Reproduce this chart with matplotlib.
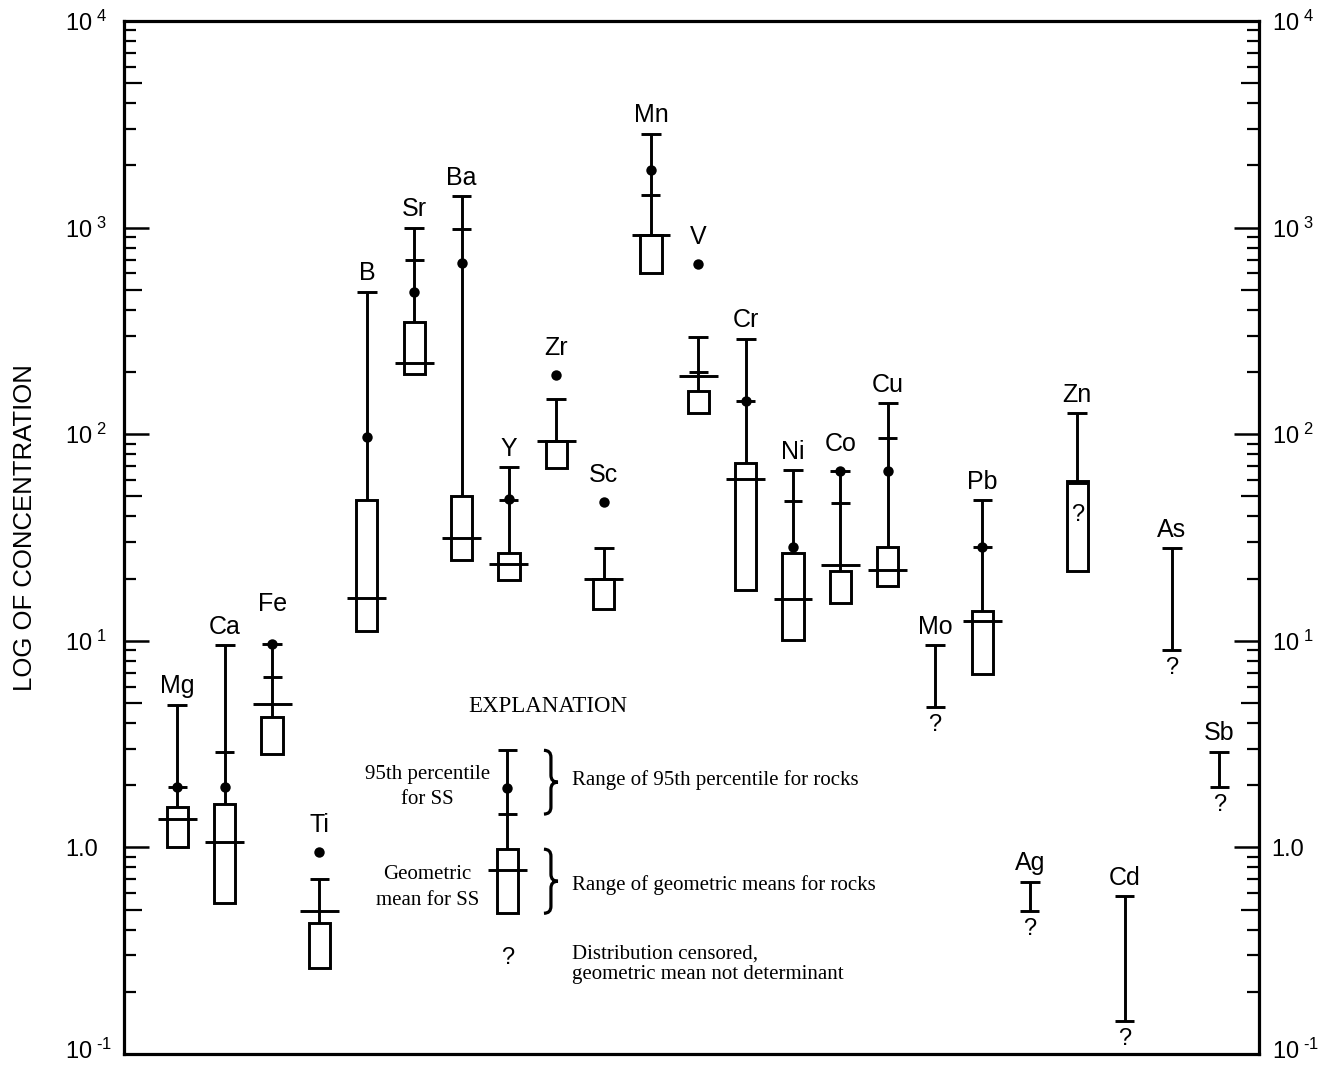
import numpy as np
import matplotlib
matplotlib.use("Agg")
import matplotlib.pyplot as plt
from matplotlib.path import Path
from matplotlib.patches import PathPatch, Rectangle
from matplotlib.ticker import FixedLocator, FixedFormatter, NullFormatter
from matplotlib.transforms import ScaledTranslation

plt.rcParams['font.family'] = ['Liberation Sans', 'DejaVu Sans']
plt.rcParams['mathtext.fontset'] = 'custom'
plt.rcParams['mathtext.rm'] = 'Liberation Sans'
plt.rcParams['mathtext.it'] = 'Liberation Sans:italic'
plt.rcParams['mathtext.bf'] = 'Liberation Sans:bold'

nan = np.nan

# ---------------- data ----------------
elements = ['Mg', 'Ca', 'Fe', 'Ti', 'B', 'Sr', 'Ba', 'Y', 'Zr', 'Sc', 'Mn', 'V',
            'Cr', 'Ni', 'Co', 'Cu', 'Mo', 'Pb', 'Ag', 'Zn', 'Cd', 'As', 'Sb']
# top of range of 95th percentile for rocks
rock95_max = [4.9, 9.5, 9.6, 0.70, 490, 1000, 1420, 69, 148, 28, 2850, 295,
              290, 67, 66, 141, 9.5, 48, 0.68, 126, 0.58, 28, 2.9]
# bottom of range of 95th percentile for rocks
rock95_min = [1.95, 2.9, 6.7, nan, nan, 700, 980, 48, nan, nan, 1440, 199,
              144, 47.6, 46.6, 96, 4.8, 28.3, 0.49, 58, 0.145, 9.0, 1.95]
# 95th percentile for stream sediments
ss95 = [1.95, 1.95, 9.6, 0.95, 97, 488, 673, 48.4, 194, 47, 1900, 667,
        144, 28.5, 66, 66, nan, 28.3, nan, nan, nan, nan, nan]
# range of geometric means for rocks
rockgm_min = [1.01, 0.54, 2.82, 0.26, 11.1, 196, 24.5, 19.6, 68.9, 14.3, 604, 127,
              17.6, 10.1, 15.3, 18.5, nan, 6.9, nan, 21.8, nan, nan, nan]
rockgm_max = [1.57, 1.63, 4.29, 0.43, 48.2, 349, 50.1, 26.5, 93.1, 20.0, 923, 162,
              72.4, 26.5, 21.7, 28.5, nan, 14.0, nan, 59.4, nan, nan, nan]
# geometric mean for stream sediments
ss_gm = [1.38, 1.06, 4.95, 0.49, 16.1, 222, 31.5, 23.5, 93.1, 20.0, 923, 190.5,
         60.9, 15.9, 23.4, 21.9, nan, 12.5, nan, nan, nan, nan, nan]
censored = ['Mo', 'Zn', 'Ag', 'Cd', 'As', 'Sb']

# explanation example values
ex_cap, ex_tick, ex_dot = 2.95, 1.45, 1.93
ex_box = (0.48, 0.98)
ex_gm = 0.78
ex_q = 0.29

ytick_vals = [0.1, 1, 10, 100, 1000, 10000]
ytick_labels = ['$\\mathregular{10^{\\ \u20101}}$', '1.0', r'$\mathregular{10^{\ 1}}$',
                r'$\mathregular{10^{\ 2}}$', r'$\mathregular{10^{\ 3}}$',
                r'$\mathregular{10^{\ 4}}$']

# ---------------- style ----------------
LW = 2.1
CAP_W = 0.42
TICK_W = 0.40
BOX_W = 0.45
GM_W = 0.82
DOT_MS = 7.5
LABEL_FS = 18
Q_FS = 17
SERIF = ['Liberation Serif', 'DejaVu Serif']

fig = plt.figure(figsize=(13.32, 10.67), dpi=100)
ax = fig.add_axes([124/1332, 1 - 1054/1067, (1259 - 124)/1332, (1054 - 21)/1067])
ax.set_yscale('log')
ax.set_ylim(0.1, 1e4)
ax.set_xlim(-1.128, 22.84)
ax.set_xticks([])

for s in ax.spines.values():
    s.set_linewidth(2.3)

ax.yaxis.set_major_locator(FixedLocator(ytick_vals))
ax.yaxis.set_major_formatter(FixedFormatter(ytick_labels))
minor_vals = [m * 10.0**e for e in range(-1, 4) for m in range(2, 10)]
ax.yaxis.set_minor_locator(FixedLocator(minor_vals))
ax.yaxis.set_minor_formatter(NullFormatter())
ax.tick_params(axis='y', which='major', direction='in', length=18, width=1.8,
               left=True, right=True, labelleft=True, labelright=True,
               labelsize=17, pad=9)
ax.tick_params(axis='y', which='minor', direction='in', length=8.5, width=1.6,
               left=True, right=True)

ax.set_ylabel('LOG OF CONCENTRATION', fontsize=18.5, va='center')
ax.yaxis.set_label_coords(-0.087, 0.51)


def fin(v):
    return v is not None and not np.isnan(v)


for i, el in enumerate(elements):
    x = i
    top = rock95_max[i]
    has_box = fin(rockgm_min[i])
    low_end = rockgm_max[i] if has_box else rock95_min[i]
    ax.vlines(x, low_end, top, color='black', lw=LW)
    ax.hlines(top, x - CAP_W/2, x + CAP_W/2, color='black', lw=LW)
    if fin(rock95_min[i]):
        ax.hlines(rock95_min[i], x - TICK_W/2, x + TICK_W/2, color='black', lw=LW)
    if fin(ss95[i]):
        ax.plot([x], [ss95[i]], 'o', color='black', ms=DOT_MS, mew=0)
    if has_box:
        ax.add_patch(Rectangle((x - BOX_W/2, rockgm_min[i]), BOX_W,
                               rockgm_max[i] - rockgm_min[i], fill=False,
                               lw=LW, edgecolor='black'))
    if fin(ss_gm[i]):
        ax.hlines(ss_gm[i], x - GM_W/2, x + GM_W/2, color='black', lw=LW)
    # element label
    top_val = top
    gap = 8.3
    if fin(ss95[i]) and ss95[i] >= top * 0.97:
        top_val = max(top, ss95[i])
        gap = 14.5
    if el == 'Fe':
        gap = 24
    ax.annotate(el, (x, top_val), xytext=(0, gap), textcoords='offset points',
                ha='center', va='baseline', fontsize=LABEL_FS)
    if el in censored:
        if has_box:
            ym = np.sqrt(rockgm_min[i] * rockgm_max[i])
            ax.annotate('?', (x, ym), xytext=(0, 8), textcoords='offset points',
                        ha='center', va='center', fontsize=Q_FS)
        else:
            ax.annotate('?', (x, rock95_min[i]), xytext=(0, -5),
                        textcoords='offset points', ha='center', va='top',
                        fontsize=Q_FS)

# ---------------- explanation ----------------
ex_x = 6.97
ax.vlines(ex_x, ex_box[1], ex_cap, color='black', lw=LW)
ax.hlines(ex_cap, ex_x - CAP_W/2, ex_x + CAP_W/2, color='black', lw=LW)
ax.hlines(ex_tick, ex_x - TICK_W/2, ex_x + TICK_W/2, color='black', lw=LW)
ax.plot([ex_x], [ex_dot], 'o', color='black', ms=DOT_MS, mew=0)
ax.add_patch(Rectangle((ex_x - BOX_W/2, ex_box[0]), BOX_W, ex_box[1] - ex_box[0],
                       fill=False, lw=LW, edgecolor='black'))
ax.hlines(ex_gm, ex_x - GM_W/2, ex_x + GM_W/2, color='black', lw=LW)
ax.text(ex_x, ex_q, '?', ha='center', va='center', fontsize=Q_FS)

ax.text(7.83, 4.83, 'EXPLANATION', ha='center', va='center', fontsize=16.5,
        family=SERIF)
ax.text(5.28, 1.97, '95th percentile\nfor SS', ha='center', va='center',
        fontsize=15, family=SERIF, linespacing=1.42)
ax.text(5.28, 0.64, 'Geometric\nmean for SS', ha='center', va='center',
        fontsize=15, family=SERIF, linespacing=1.47)
ax.text(8.33, 2.12, 'Range of 95th percentile for rocks', ha='left', va='center',
        fontsize=15, family=SERIF)
ax.text(8.33, 0.66, 'Range of geometric means for rocks', ha='left', va='center',
        fontsize=15, family=SERIF)
ax.text(8.33, 0.273, 'Distribution censored,\ngeometric mean not determinant',
        ha='left', va='center', fontsize=15, family=SERIF, linespacing=1.12)


def brace(x, y_top, y_bot, w_px=14, lw=2.3):
    xd, yt = ax.transData.transform((x, y_top))
    _, yb = ax.transData.transform((x, y_bot))
    xl, xm, xr = xd, xd + w_px * 0.5, xd + w_px
    r = w_px * 0.5
    ym = 0.5 * (yt + yb)
    verts = [(xl, yt), (xm, yt), (xm, yt - r), (xm, ym + r), (xm, ym), (xr, ym),
             (xm, ym), (xm, ym - r), (xm, yb + r), (xm, yb), (xl, yb)]
    codes = [Path.MOVETO, Path.CURVE3, Path.CURVE3, Path.LINETO, Path.CURVE3,
             Path.CURVE3, Path.CURVE3, Path.CURVE3, Path.LINETO, Path.CURVE3,
             Path.CURVE3]
    va = ax.transAxes.inverted().transform(verts)
    ax.add_patch(PathPatch(Path(va, codes), transform=ax.transAxes, fill=False,
                           lw=lw, edgecolor='black', clip_on=False))


brace(7.74, ex_cap, ex_tick)
brace(7.74, ex_box[1], ex_box[0])

# medium-length ticks at the 5s; left labels flush-left; lift lowest labels
fig.canvas.draw()
locs = ax.yaxis.get_minorticklocs()
for tk, loc in zip(ax.yaxis.get_minor_ticks(len(locs)), locs):
    mant = loc / 10.0**np.floor(np.log10(loc) + 1e-9)
    if abs(mant - 5) < 1e-6:
        tk.tick1line.set_markersize(13)
        tk.tick2line.set_markersize(13)
mlocs = ax.yaxis.get_majorticklocs()
for tk, loc in zip(ax.yaxis.get_major_ticks(len(mlocs)), mlocs):
    dy = 4 / 72 if loc < 0.5 else 0.0
    tk.label1.set_ha('left')
    tk.label1.set_transform(tk.label1.get_transform() +
                            ScaledTranslation(-33.5 / 72, dy, fig.dpi_scale_trans))
    tk.label2.set_transform(tk.label2.get_transform() +
                            ScaledTranslation(0, dy, fig.dpi_scale_trans))

fig.savefig('out.png', dpi=100)
